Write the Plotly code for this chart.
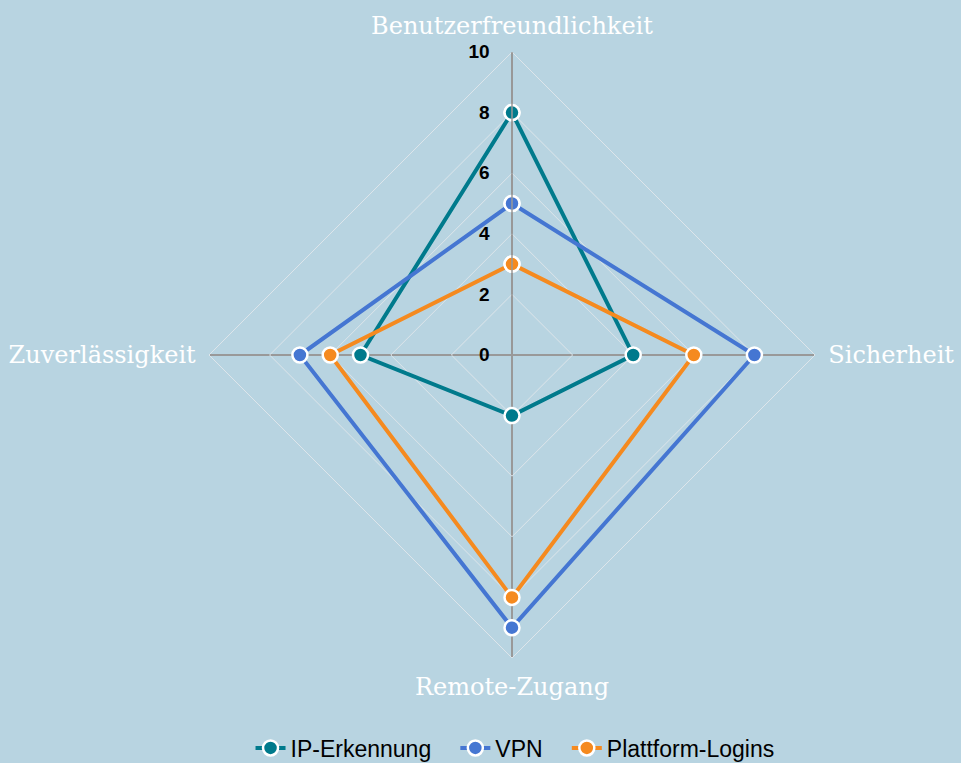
import plotly.graph_objects as go

categories = ["Benutzerfreundlichkeit", "Sicherheit", "Remote-Zugang", "Zuverlässigkeit"]
ip_erkennung = [8, 4, 2, 5]
vpn = [5, 8, 9, 7]
plattform_logins = [3, 6, 8, 6]

series = [
    ("IP-Erkennung", ip_erkennung, "#007a8c"),
    ("VPN", vpn, "#4576d2"),
    ("Plattform-Logins", plattform_logins, "#f58a1f"),
]

pad = "\u00a0\u00a0\u00a0"
fig = go.Figure()
for i, (name, vals, color) in enumerate(series):
    fig.add_trace(go.Scatterpolar(
        r=vals + [vals[0]],
        theta=categories + [categories[0]],
        name=name + (pad if i < len(series) - 1 else ""),
        mode="lines+markers",
        line=dict(color=color, width=4),
        marker=dict(size=15, color=color, line=dict(color="white", width=2.5)),
    ))

bg = "#b8d4e1"
fig.update_layout(
    width=961, height=763,
    paper_bgcolor=bg, plot_bgcolor=bg,
    margin=dict(l=209, r=146, t=52, b=105, autoexpand=False),
    showlegend=True,
    legend=dict(orientation="h", x=0.505, xanchor="center", y=-0.1485, yanchor="middle",
                font=dict(family="Liberation Sans, Arial", size=23, color="black"),
                bgcolor="rgba(0,0,0,0)"),
    polar=dict(
        bgcolor=bg,
        gridshape="linear",
        angularaxis=dict(
            direction="clockwise", rotation=90,
            tickfont=dict(family="DejaVu Serif", size=24, color="white"),
            gridcolor="#999999", gridwidth=1.5,
            linecolor="#dde5ea", linewidth=1, showline=True,
            ticks="outside", ticklen=8, tickcolor="rgba(0,0,0,0)",
        ),
        radialaxis=dict(
            range=[0, 10], tickvals=[0, 2, 4, 6, 8, 10], angle=90,
            side="counterclockwise", tickangle=90,
            tickfont=dict(family="Liberation Sans, Arial", size=19, color="black", weight="bold"),
            gridcolor="#dde5ea", gridwidth=1,
            showline=True, linecolor="#999999", linewidth=1.5,
            ticks="outside", ticklen=15, tickcolor="rgba(0,0,0,0)",
        ),
    ),
)

fig.write_html("out.html", config={"displayModeBar": False},
               post_script="document.body.style.margin='0';document.body.style.overflow='hidden';")
